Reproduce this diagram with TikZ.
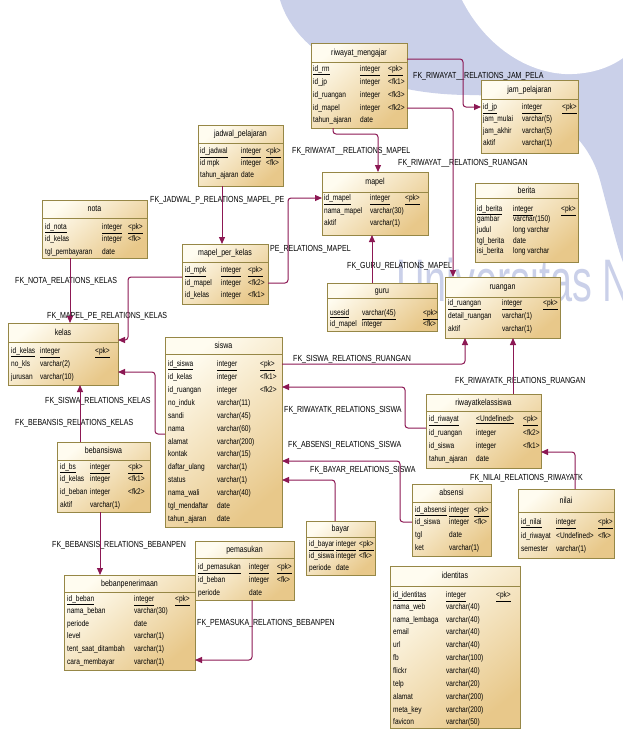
\documentclass[tikz,border=0pt]{standalone}
\usepackage{fontspec}
\setmainfont{Liberation Sans}[FakeStretch=0.8]
\newfontfamily\markfont{Liberation Sans}[FakeStretch=0.66]
\usetikzlibrary{arrows.meta}

\definecolor{fkline}{RGB}{140,24,84}
\definecolor{boxlight}{RGB}{255,252,240}
\definecolor{boxdark}{RGB}{232,200,138}
\definecolor{boxedge}{RGB}{150,135,70}
\definecolor{markcol}{RGB}{202,208,233}

\newcommand\kk[1]{\textless#1\textgreater}
% table frame: name, left, top, right, bottom, header line, title
\newcommand\ertable[7]{%
  \node[tbox, minimum width={(#4-#2)*1pt}, minimum height={(#5-#3)*1pt}] (#1) at (#2,#3) {};
  \draw[tedge] (#2,#6) -- (#4,#6);
  \node[ttitle] (#1-title) at ({(#2+#4)/2},{(#3+#6)/2}) {#7};
}
% ordinary attribute row: node prefix, y, name, type, key
\newcommand\erow[5]{%
  \node[cell] (#1-n) at (\cA,#2) {#3};
  \node[cell] (#1-t) at (\cB,#2) {#4};
  \node[cell] (#1-k) at (\cC,#2) {#5};
}
% primary key row, underlined
\newcommand\epk[5]{%
  \node[cell] (#1-n) at (\cA,#2) {\underline{#3}};
  \node[cell] (#1-t) at (\cB,#2) {\underline{#4}};
  \node[cell] (#1-k) at (\cC,#2) {\underline{#5}};
}

\begin{document}
\begin{tikzpicture}[x=1pt,y=-1pt,
  tbox/.style={draw=boxedge, line width=0.8pt, inner sep=0pt, outer sep=0pt,
    anchor=north west, top color=boxlight, bottom color=boxdark, shading angle=40},
  tedge/.style={draw=boxedge, line width=0.7pt},
  ttitle/.style={inner sep=0pt, anchor=mid, font=\fontsize{8.8}{10}\selectfont},
  cell/.style={inner sep=0pt, anchor=mid west, font=\fontsize{8.2}{10}\selectfont},
  fklabel/.style={inner sep=0pt, anchor=mid west, font=\fontsize{8.8}{10}\selectfont},
  fk/.style={draw=fkline, line width=1pt, rounded corners=3pt,
    -{Triangle[length=7pt,width=6pt]}}]
\useasboundingbox (0,0) rectangle (623,731);
\fill[white] (0,0) rectangle (623,731);

% faint background emblem
\fill[markcol] (280,0) .. controls (298,60) and (380,95) .. (470,95)
  .. controls (530,95) and (585,125) .. (600,180)
  .. controls (612,225) and (618,250) .. (623,262) -- (623,0) -- cycle;
\fill[white] (462,0) .. controls (485,45) and (525,72) .. (565,74)
  .. controls (592,75) and (612,66) .. (623,58) -- (623,0) -- cycle;
\node[anchor=base west, text=markcol, inner sep=0pt,
  font=\markfont\fontsize{60}{60}\selectfont] (wm) at (396,301) {Universitas N};

% relationship labels
\node[fklabel] (l1) at (413,76) {FK\_RIWAYAT\_\_RELATIONS\_JAM\_PELA};
\node[fklabel] (l2) at (292,151) {FK\_RIWAYAT\_\_RELATIONS\_MAPEL};
\node[fklabel] (l3) at (398,163) {FK\_RIWAYAT\_\_RELATIONS\_RUANGAN};
\node[fklabel] (l4) at (150,200) {FK\_JADWAL\_P\_RELATIONS\_MAPEL\_PE};
\node[fklabel] (l5) at (270,249) {PE\_RELATIONS\_MAPEL};
\node[fklabel] (l6) at (347,266) {FK\_GURU\_RELATIONS\_MAPEL};
\node[fklabel] (l7) at (15,281) {FK\_NOTA\_RELATIONS\_KELAS};
\node[fklabel] (l8) at (47,316) {FK\_MAPEL\_PE\_RELATIONS\_KELAS};
\node[fklabel] (l9) at (293,359) {FK\_SISWA\_RELATIONS\_RUANGAN};
\node[fklabel] (l10) at (455,381) {FK\_RIWAYATK\_RELATIONS\_RUANGAN};
\node[fklabel] (l11) at (45,401) {FK\_SISWA\_RELATIONS\_KELAS};
\node[fklabel] (l12) at (284,410) {FK\_RIWAYATK\_RELATIONS\_SISWA};
\node[fklabel] (l13) at (15,423) {FK\_BEBANSIS\_RELATIONS\_KELAS};
\node[fklabel] (l14) at (288,445) {FK\_ABSENSI\_RELATIONS\_SISWA};
\node[fklabel] (l15) at (310,470) {FK\_BAYAR\_RELATIONS\_SISWA};
\node[fklabel] (l16) at (470,478) {FK\_NILAI\_RELATIONS\_RIWAYATK};
\node[fklabel] (l17) at (52,545) {FK\_BEBANSIS\_RELATIONS\_BEBANPEN};
\node[fklabel] (l18) at (197,623) {FK\_PEMASUKA\_RELATIONS\_BEBANPEN};

% tables
\ertable{rm}{311}{43}{407}{128}{62}{riwayat\_mengajar}
\def\cA{313}\def\cB{360}\def\cC{388}
\epk{rm1}{69}{id\_rm}{integer}{\kk{pk}}
\erow{rm2}{82}{id\_jp}{integer}{\kk{fk1}}
\erow{rm3}{95}{id\_ruangan}{integer}{\kk{fk3}}
\erow{rm4}{108}{id\_mapel}{integer}{\kk{fk2}}
\erow{rm5}{120}{tahun\_ajaran}{date}{}

\ertable{jp}{481}{80}{578}{153}{99}{jam\_pelajaran}
\def\cA{483}\def\cB{522}\def\cC{562}
\epk{jp1}{107}{id\_jp}{integer}{\kk{pk}}
\erow{jp2}{119}{jam\_mulai}{varchar(5)}{}
\erow{jp3}{131}{jam\_akhir}{varchar(5)}{}
\erow{jp4}{143}{aktif}{varchar(1)}{}

\ertable{jd}{198}{125}{283}{186}{143}{jadwal\_pelajaran}
\def\cA{200}\def\cB{241}\def\cC{266}
\epk{jd1}{151}{id\_jadwal}{integer}{\kk{pk}}
\erow{jd2}{163}{id mpk}{integer}{\kk{fk}}
\erow{jd3}{175}{tahun\_ajaran}{date}{}

\ertable{mp}{322}{172}{428}{235}{192}{mapel}
\def\cA{324}\def\cB{370}\def\cC{405}
\epk{mp1}{198}{id\_mapel}{integer}{\kk{pk}}
\erow{mp2}{211}{nama\_mapel}{varchar(30)}{}
\erow{mp3}{223}{aktif}{varchar(1)}{}

\ertable{br}{475}{183}{578}{262}{198}{berita}
\def\cA{477}\def\cB{513}\def\cC{561}
\epk{br1}{209}{id\_berita}{integer}{\kk{pk}}
\erow{br2}{219}{gambar}{varchar(150)}{}
\erow{br3}{230}{judul}{long varchar}{}
\erow{br4}{241}{tgl\_berita}{date}{}
\erow{br5}{251}{isi\_berita}{long varchar}{}

\ertable{nt}{42}{200}{147}{258}{218}{nota}
\def\cA{45}\def\cB{102}\def\cC{128}
\epk{nt1}{227}{id\_nota}{integer}{\kk{pk}}
\erow{nt2}{239}{id\_kelas}{integer}{\kk{fk}}
\erow{nt3}{252}{tgl\_pembayaran}{date}{}

\ertable{mk}{182}{244}{268}{304}{262}{mapel\_per\_kelas}
\def\cA{185}\def\cB{221}\def\cC{248}
\epk{mk1}{270}{id\_mpk}{integer}{\kk{pk}}
\erow{mk2}{283}{id\_mapel}{integer}{\kk{fk2}}
\erow{mk3}{295}{id\_kelas}{integer}{\kk{fk1}}

\ertable{gr}{327}{283}{437}{331}{298}{guru}
\def\cA{330}\def\cB{362}\def\cC{423}
\epk{gr1}{313}{usesid}{varchar(45)}{\kk{pk}}
\erow{gr2}{324}{id\_mapel}{integer}{\kk{fk}}

\ertable{ru}{445}{277}{560}{338}{297}{ruangan}
\def\cA{448}\def\cB{502}\def\cC{543}
\epk{ru1}{303}{id\_ruangan}{integer}{\kk{pk}}
\erow{ru2}{316}{detail\_ruangan}{varchar(1)}{}
\erow{ru3}{329}{aktif}{varchar(1)}{}

\ertable{kl}{8}{323}{118}{385}{342}{kelas}
\def\cA{11}\def\cB{40}\def\cC{95}
\epk{kl1}{351}{id\_kelas}{integer}{\kk{pk}}
\erow{kl2}{364}{no\_kls}{varchar(2)}{}
\erow{kl3}{377}{jurusan}{varchar(10)}{}

\ertable{sw}{165}{337}{282}{527}{354}{siswa}
\def\cA{168}\def\cB{217}\def\cC{260}
\epk{sw1}{364}{id\_siswa}{integer}{\kk{pk}}
\erow{sw2}{377}{id\_kelas}{integer}{\kk{fk1}}
\erow{sw3}{390}{id\_ruangan}{integer}{\kk{fk2}}
\erow{sw4}{403}{no\_induk}{varchar(11)}{}
\erow{sw5}{416}{sandi}{varchar(45)}{}
\erow{sw6}{429}{nama}{varchar(60)}{}
\erow{sw7}{442}{alamat}{varchar(200)}{}
\erow{sw8}{454}{kontak}{varchar(15)}{}
\erow{sw9}{467}{daftar\_ulang}{varchar(1)}{}
\erow{sw10}{480}{status}{varchar(1)}{}
\erow{sw11}{493}{nama\_wali}{varchar(40)}{}
\erow{sw12}{506}{tgl\_mendaftar}{date}{}
\erow{sw13}{519}{tahun\_ajaran}{date}{}

\ertable{rk}{426}{394}{541}{468}{411}{riwayatkelassiswa}
\def\cA{429}\def\cB{476}\def\cC{523}
\epk{rk1}{419}{id\_riwayat}{\kk{Undefined}}{\kk{pk}}
\erow{rk2}{433}{id\_ruangan}{integer}{\kk{fk2}}
\erow{rk3}{446}{id\_siswa}{integer}{\kk{fk1}}
\erow{rk4}{459}{tahun\_ajaran}{date}{}

\ertable{bs}{57}{442}{150}{512}{460}{bebansiswa}
\def\cA{60}\def\cB{90}\def\cC{128}
\epk{bs1}{467}{id\_bs}{integer}{\kk{pk}}
\erow{bs2}{479}{id\_kelas}{integer}{\kk{fk1}}
\erow{bs3}{492}{id\_beban}{integer}{\kk{fk2}}
\erow{bs4}{505}{aktif}{varchar(1)}{}

\ertable{ab}{412}{484}{491}{556}{502}{absensi}
\def\cA{415}\def\cB{449}\def\cC{474}
\epk{ab1}{510}{id\_absensi}{integer}{\kk{pk}}
\erow{ab2}{522}{id\_siswa}{integer}{\kk{fk}}
\erow{ab3}{535}{tgl}{date}{}
\erow{ab4}{548}{ket}{varchar(1)}{}

\ertable{nl}{518}{489}{614}{558}{512}{nilai}
\def\cA{521}\def\cB{556}\def\cC{598}
\epk{nl1}{522}{id\_nilai}{integer}{\kk{pk}}
\erow{nl2}{536}{id\_riwayat}{\kk{Undefined}}{\kk{fk}}
\erow{nl3}{549}{semester}{varchar(1)}{}

\ertable{by}{306}{521}{375}{575}{537}{bayar}
\def\cA{309}\def\cB{336}\def\cC{359}
\epk{by1}{544}{id\_bayar}{integer}{\kk{pk}}
\erow{by2}{556}{id\_siswa}{integer}{\kk{fk}}
\erow{by3}{568}{periode}{date}{}

\ertable{pm}{195}{541}{294}{600}{558}{pemasukan}
\def\cA{198}\def\cB{249}\def\cC{277}
\epk{pm1}{567}{id\_pemasukan}{integer}{\kk{pk}}
\erow{pm2}{580}{id\_beban}{integer}{\kk{fk}}
\erow{pm3}{593}{periode}{date}{}

\ertable{bp}{64}{575}{195}{670}{592}{bebanpenerimaan}
\def\cA{67}\def\cB{134}\def\cC{175}
\epk{bp1}{599}{id\_beban}{integer}{\kk{pk}}
\erow{bp2}{611}{nama\_beban}{varchar(30)}{}
\erow{bp3}{624}{periode}{date}{}
\erow{bp4}{636}{level}{varchar(1)}{}
\erow{bp5}{649}{tent\_saat\_ditambah}{varchar(1)}{}
\erow{bp6}{662}{cara\_membayar}{varchar(1)}{}

\ertable{it}{390}{566}{520}{728}{586}{identitas}
\def\cA{393}\def\cB{446}\def\cC{496}
\epk{it1}{595}{id\_identitas}{integer}{\kk{pk}}
\erow{it2}{607}{nama\_web}{varchar(40)}{}
\erow{it3}{620}{nama\_lembaga}{varchar(40)}{}
\erow{it4}{632}{email}{varchar(40)}{}
\erow{it5}{645}{url}{varchar(40)}{}
\erow{it6}{658}{fb}{varchar(100)}{}
\erow{it7}{671}{flickr}{varchar(40)}{}
\erow{it8}{684}{telp}{varchar(20)}{}
\erow{it9}{697}{alamat}{varchar(200)}{}
\erow{it10}{710}{meta\_key}{varchar(200)}{}
\erow{it11}{722}{favicon}{varchar(50)}{}

% references (child -> parent)
\draw[fk] (rm.east |- 0,59) -- (463,59) -- (463,107) -- (jp.west |- 0,107);
\draw[fk] (333,0 |- rm.south) -- (333,134) -- (378,134) -- (378,0 |- mp.north);
\draw[fk] (rm.east |- 0,108) -- (453,108) -- (453,0 |- ru.north);
\draw[fk] (222,0 |- jd.south) -- (222,0 |- mk.north);
\draw[fk] (mk.east |- 0,283) -- (288,283) -- (288,198) -- (mp.west |- 0,198);
\draw[fk] (372,0 |- gr.north) -- (372,0 |- mp.south);
\draw[fk] (70,0 |- nt.south) -- (70,0 |- kl.north);
\draw[fk] (mk.west |- 0,277) -- (128,277) -- (128,340) -- (kl.east |- 0,340);
\draw[fk] (sw.west |- 0,434) -- (155,434) -- (155,372) -- (kl.east |- 0,372);
\draw[fk] (80,0 |- bs.north) -- (80,0 |- kl.south);
\draw[fk] (100,0 |- bs.south) -- (100,0 |- bp.north);
\draw[fk] (252,0 |- pm.south) -- (252,660) -- (bp.east |- 0,660);
\draw[fk] (sw.east |- 0,364) -- (465,364) -- (465,0 |- ru.south);
\draw[fk] (513,0 |- rk.north) -- (513,0 |- ru.south);
\draw[fk] (rk.west |- 0,428) -- (405,428) -- (405,387) -- (sw.east |- 0,387);
\draw[fk] (ab.west |- 0,522) -- (400,522) -- (400,461) -- (sw.east |- 0,461);
\draw[fk] (335,0 |- by.north) -- (335,480) -- (sw.east |- 0,480);
\draw[fk] (575,0 |- nl.north) -- (575,452) -- (rk.east |- 0,452);
\end{tikzpicture}
\end{document}
